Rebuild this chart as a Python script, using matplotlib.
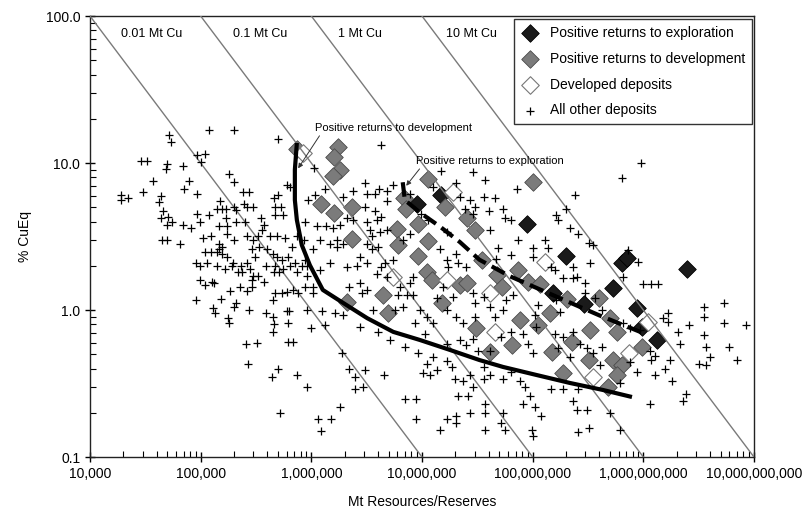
import matplotlib.pyplot as plt
import numpy as np
from matplotlib.ticker import FuncFormatter, NullFormatter, LogLocator

plt.rcParams['font.family'] = ['Liberation Sans', 'DejaVu Sans']

# contained metal reference lines
metal_mt = [0.01, 0.1, 1, 10]
metal_labels = ['0.01 Mt Cu', '0.1 Mt Cu', '1 Mt Cu', '10 Mt Cu']
metal_label_t = [1.9e4, 1.95e5, 1.75e6, 1.65e7]

# positive returns to exploration (tonnes, % CuEq)
explore_t = [9.0e6, 1.48e7, 8.9e7, 2.0e8, 1.52e8, 2.9e8, 5.3e8, 6.4e8, 7.1e8, 8.7e8, 9.7e8, 1.32e9, 2.47e9]
explore_g = [5.3, 6.1, 3.85, 2.33, 1.31, 1.10, 1.41, 2.09, 2.26, 1.03, 0.77, 0.625, 1.90]

# positive returns to development
develop_t = [7.4e5, 1.74e6, 1.6e6, 1.81e6, 1.57e6, 1.22e6, 1.6e6, 2.33e6, 2.33e6, 6.9e6,
             7.2e6, 5.9e6, 6.1e6, 9.2e6, 1.13e7, 1.61e7, 1.13e7, 9.2e6, 1.11e7, 1.23e7,
             2.55e7, 3.0e7, 2.2e7, 2.55e7, 4.4e6, 2.1e6, 4.9e6, 1.51e7, 3.1e7, 1.0e8,
             3.5e7, 4.75e7, 5.3e7, 7.3e7, 9.1e7, 1.16e8, 2.04e8, 4.0e8, 1.43e8, 3.3e8,
             5.8e8, 5.0e8, 9.7e8, 7.7e7, 1.11e8, 2.26e8, 6.5e7, 1.49e8, 3.2e8, 5.3e8,
             4.1e7, 1.87e8, 6.4e8, 5.8e8, 4.8e8]
develop_g = [12.4, 12.9, 11.0, 9.0, 8.2, 5.3, 4.6, 5.0, 3.04, 5.8,
             4.9, 3.56, 2.77, 3.85, 7.8, 5.0, 2.94, 2.33, 1.81, 1.60,
             4.2, 3.5, 1.48, 1.53, 1.26, 1.13, 0.95, 1.12, 0.76, 7.4,
             2.19, 1.73, 1.43, 1.87, 1.55, 1.50, 1.19, 1.21, 0.95, 0.73,
             0.71, 0.88, 0.56, 0.86, 0.79, 0.61, 0.58, 0.52, 0.46, 0.46,
             0.52, 0.37, 0.42, 0.36, 0.30]

# developed deposits
developed_t = [1.9e7, 1.29e8, 4.1e7, 4.6e7, 7.5e8, 3.5e8, 1.1e9, 5.5e6, 1.68e7, 8.4e5]
developed_g = [6.4, 2.12, 1.31, 0.71, 0.51, 0.35, 0.83, 1.68, 1.60, 11.7]

# all other deposits (tonnes, % CuEq)
other = [
    (5.2e4, 15.6), (5.4e4, 13.9), (1.19e5, 16.7), (2.0e5, 16.7), (5.0e5, 14.6),
    (2.9e4, 10.3), (3.3e4, 10.3), (5.0e4, 9.9), (4.9e4, 9.1), (6.9e4, 9.6), (9.2e4, 11.3),
    (1.1e5, 11.5), (1.0e5, 10.1), (3.7e4, 7.5), (3.0e4, 6.4), (1.9e4, 6.1), (1.9e4, 5.6),
    (2.2e4, 5.8), (7.8e4, 7.5), (7.1e4, 6.7), (1.82e5, 8.4), (2.0e5, 7.4), (2.43e5, 6.4),
    (2.75e5, 6.4), (9.3e4, 6.2), (4.2e4, 5.4), (4.4e4, 6.0), (4.6e4, 4.7), (4.4e4, 4.2),
    (5.1e4, 4.3), (5.0e4, 3.8), (5.5e4, 4.0), (6.9e4, 3.8), (8.1e4, 3.6), (9.3e4, 4.5),
    (9.9e4, 4.0), (1.18e5, 4.4), (1.5e5, 5.5), (1.4e5, 4.9), (1.55e5, 4.9), (1.7e5, 4.9),
    (2.0e5, 5.0), (2.1e5, 4.8), (2.48e5, 5.3), (2.6e5, 5.0), (3.0e5, 5.0), (1.68e5, 4.2),
    (1.47e5, 3.7), (1.73e5, 3.7), (2.1e5, 4.0), (2.5e5, 4.0), (3.5e5, 4.2), (3.7e5, 3.8),
    (4.6e5, 5.8), (5.0e5, 6.1), (4.7e5, 5.0), (5.3e5, 5.0), (5.5e5, 4.4), (4.7e5, 4.4),
    (6.0e5, 7.1), (6.4e5, 6.9), (8.8e5, 4.0), (1.06e5, 3.1), (1.23e5, 3.2), (4.5e4, 3.0),
    (5.0e4, 3.0), (6.5e4, 2.8), (1.45e5, 2.8), (1.55e5, 2.7), (1.72e5, 3.3), (2.0e5, 3.0),
    (2.6e5, 3.2), (2.95e5, 3.0), (3.3e5, 3.2), (3.6e5, 3.5), (4.2e5, 3.2), (4.9e5, 3.2),
    (5.8e5, 3.1), (6.7e5, 2.7), (7.4e5, 3.2), (8.5e5, 3.0), (1.09e5, 2.5), (1.23e5, 2.5),
    (1.4e5, 2.5), (1.55e5, 2.4), (1.45e5, 2.6), (1.72e5, 2.3), (1.97e5, 2.1), (2.3e5, 2.0),
    (2.6e5, 2.1), (3.1e5, 2.3), (2.9e5, 2.6), (3.4e5, 2.7), (4.0e5, 2.6), (4.5e5, 2.4),
    (4.9e5, 2.3), (5.4e5, 2.2), (6.1e5, 2.3), (7.1e5, 2.1), (8.2e5, 2.0), (8.8e5, 2.2),
    (9.1e4, 2.1), (9.9e4, 2.0), (1.13e5, 2.1), (1.4e5, 2.0), (1.66e5, 1.9), (1.9e5, 2.0),
    (2.16e5, 1.8), (2.36e5, 1.8), (2.8e5, 1.9), (2.97e5, 1.7), (3.3e5, 1.7), (3.9e5, 2.0),
    (4.7e5, 2.0), (4.6e5, 1.8), (5.1e5, 1.8), (5.6e5, 1.9), (6.4e5, 2.0), (7.4e5, 1.8),
    (9.1e5, 2.0), (9.9e4, 1.6), (1.09e5, 1.48), (1.26e5, 1.56), (1.33e5, 1.53), (1.84e5, 1.35),
    (2.26e5, 1.44), (2.6e5, 1.35), (2.9e5, 1.6), (2.9e5, 1.44), (3.7e5, 1.54), (4.7e5, 1.30),
    (4.5e5, 1.17), (5.4e5, 1.30), (6.0e5, 1.33), (6.9e5, 1.37), (7.6e5, 1.30), (8.8e5, 1.44),
    (9.1e5, 1.7), (9.1e4, 1.17), (1.52e5, 1.19), (2.0e5, 1.05), (2.1e5, 1.11), (1.3e5, 1.03),
    (1.35e5, 0.95), (2.75e5, 1.0), (3.9e5, 0.95), (4.5e5, 0.90), (4.6e5, 0.80), (4.5e5, 0.71),
    (6.0e5, 0.98), (6.3e5, 0.99), (6.1e5, 0.82), (9.1e5, 1.0), (1.78e5, 0.88), (1.8e5, 0.82),
    (2.55e5, 0.59), (3.2e5, 0.60), (6.1e5, 0.61), (6.9e5, 0.61), (2.66e5, 0.43), (4.4e5, 0.35),
    (5.0e5, 0.40), (7.5e5, 0.36), (9.2e5, 0.30), (5.2e5, 0.20),
    (4.3e6, 13.2), (1.06e6, 9.3), (3.05e6, 7.3), (4.1e6, 6.7), (3.8e6, 6.2), (3.2e6, 6.2),
    (4.8e6, 5.5), (2.4e6, 6.5), (1.95e6, 5.9), (1.33e6, 6.7), (1.08e6, 6.1), (9.4e5, 5.6),
    (3.05e6, 5.0), (3.8e6, 4.7), (2.1e6, 4.2), (2.4e6, 4.1), (3.2e6, 4.0), (3.9e6, 4.1),
    (4.3e6, 4.3), (1.8e6, 3.8), (1.58e6, 3.6), (1.12e6, 3.7), (1.37e6, 3.7), (3.4e6, 3.5),
    (3.5e6, 3.2), (4.2e6, 3.4), (4.8e6, 3.5), (1.7e6, 3.0), (1.47e6, 2.8), (1.7e6, 2.7),
    (1.95e6, 2.8), (1.2e6, 3.0), (1.04e6, 2.6), (3.2e6, 2.8), (3.5e6, 2.6), (4.0e6, 2.7),
    (2.75e6, 2.3), (2.1e6, 1.97), (2.6e6, 2.0), (3.2e6, 2.1), (1.47e6, 2.1), (1.2e6, 1.87),
    (1.04e6, 1.44), (4.3e6, 1.97), (4.8e6, 1.69), (3.9e6, 1.77), (6.3e6, 1.44), (7.3e6, 1.26),
    (8.3e6, 1.26), (6.1e6, 1.26), (2.75e6, 1.52), (3.2e6, 1.37), (2.2e6, 1.44), (1.67e7, 3.4),
    (1.45e7, 2.6), (2.05e7, 2.4), (1.73e7, 1.97), (2.2e7, 5.9), (2.45e7, 4.9), (2.7e7, 5.6),
    (2.9e7, 4.5), (2.9e7, 8.7), (2.05e7, 7.3), (1.26e7, 6.9), (7.8e6, 6.2), (5.5e6, 7.1),
    (4.8e6, 6.5), (9.9e6, 4.5), (1.14e7, 4.1), (7.8e6, 3.3), (6.8e6, 3.0), (1.67e7, 2.2),
    (2.1e7, 2.1), (2.5e7, 1.97), (1.56e7, 1.44), (1.92e7, 1.23), (1.36e7, 1.2), (4.6e6, 2.1),
    (5.5e6, 2.2), (8.3e6, 1.69), (7.8e6, 1.52), (1.5e7, 8.8),
    (1.04e6, 1.30), (1.24e6, 0.98), (1.63e6, 0.95), (1.95e6, 0.92), (2.85e6, 1.3), (3.6e6, 1.0),
    (6.8e6, 1.05), (5.7e6, 1.0), (9.6e6, 1.0), (1.1e7, 0.90), (1.26e7, 0.81), (8.6e6, 0.81),
    (1.67e7, 1.0), (2.05e7, 0.9), (2.36e7, 0.81), (3.0e7, 0.90), (3.0e7, 1.11), (1.0e6, 0.75),
    (1.33e6, 0.79), (2.75e6, 0.77), (4.0e6, 0.71), (5.1e6, 0.625), (7.0e6, 0.56), (1.06e7, 0.69),
    (1.67e7, 0.59), (2.2e7, 0.625), (2.5e7, 0.58), (1.88e6, 0.51), (2.2e6, 0.40), (2.5e6, 0.35),
    (3.05e6, 0.39), (2.95e6, 0.30), (2.5e6, 0.29), (4.5e6, 0.36), (9.2e6, 0.51), (1.1e7, 0.43),
    (1.26e7, 0.48), (1.36e7, 0.39), (1.03e7, 0.37), (1.18e7, 0.36), (1.67e7, 0.45), (1.85e7, 0.41),
    (2.0e7, 0.34), (2.36e7, 0.33), (2.7e7, 0.36), (2.9e7, 0.30), (2.1e7, 0.26), (2.6e7, 0.26),
    (7.0e6, 0.25), (8.9e6, 0.25), (1.8e6, 0.22), (1.16e6, 0.18), (1.5e6, 0.18), (1.22e6, 0.15),
    (8.9e6, 0.18), (1.45e7, 0.153), (1.67e7, 0.18), (2.05e7, 0.19), (2.05e7, 0.17), (2.7e7, 0.20),
    (3.7e7, 7.7), (7.2e7, 6.7), (3.6e7, 5.9), (4.6e7, 5.8), (3.0e7, 5.0), (4.0e7, 4.7),
    (5.4e7, 4.9), (5.6e7, 4.2), (4.1e7, 3.5), (6.4e7, 4.1), (7.4e7, 3.0), (6.4e7, 2.37),
    (1.01e8, 2.63), (1.29e8, 3.0), (1.38e8, 2.63), (1.01e8, 2.3), (4.9e7, 2.63), (4.7e7, 2.24),
    (1.64e8, 4.4), (1.70e8, 4.1), (2.17e8, 3.6), (2.58e8, 3.3), (2.4e8, 6.1), (2.0e8, 4.9),
    (3.2e8, 2.84), (3.5e8, 2.77), (3.3e8, 2.08), (2.3e8, 1.97), (1.89e8, 1.64), (2.33e8, 1.64),
    (2.96e8, 1.52), (2.5e8, 1.69), (6.4e8, 7.9), (9.6e8, 10.0), (7.3e8, 2.56), (9.0e8, 2.13),
    (6.6e8, 1.69), (1.48e8, 1.97), (1.59e8, 1.87),
    (1.0e9, 1.5), (1.18e9, 1.5), (1.36e9, 1.5), (1.67e9, 0.95), (1.51e9, 0.88), (1.67e9, 0.83),
    (2.06e9, 0.71), (2.13e9, 0.59), (2.6e9, 0.79), (3.5e9, 1.05), (3.5e9, 0.90), (3.5e9, 0.68),
    (3.7e9, 0.56), (4.0e9, 0.48), (3.2e9, 0.43), (3.7e9, 0.42), (5.4e9, 1.11), (5.4e9, 0.81),
    (6.0e9, 0.56), (7.0e9, 0.46), (8.5e9, 0.79), (1.14e9, 0.53), (1.27e9, 0.49), (1.18e9, 0.46),
    (1.27e9, 0.36), (1.56e9, 0.40), (1.73e9, 0.46), (1.8e9, 0.33), (1.14e9, 0.23), (2.3e9, 0.24),
    (2.45e9, 0.27),
    (2.9e7, 1.30), (3.6e7, 1.23), (5.4e7, 1.0), (5.8e7, 1.17), (6.7e7, 1.26), (2.9e7, 0.64),
    (3.2e7, 0.53), (5.2e7, 0.66), (6.4e7, 0.71), (8.2e7, 0.69), (9.1e7, 0.59), (1.01e8, 0.51),
    (1.89e8, 0.66), (2.33e8, 0.71), (2.67e8, 0.59), (3.07e8, 0.55), (3.5e8, 0.51), (4.2e8, 0.56),
    (1.05e8, 0.92), (1.12e8, 1.08), (1.64e8, 1.17), (1.76e8, 0.97), (2.96e8, 1.30), (3.66e8, 1.2),
    (4.2e8, 1.0), (6.6e8, 0.81), (7.6e8, 0.75), (9.3e8, 0.73), (3.6e7, 0.41), (4.1e7, 0.36),
    (5.4e7, 0.34), (6.4e7, 0.38), (7.7e7, 0.33), (3.6e7, 0.34), (8.5e7, 0.30), (9.4e7, 0.26),
    (8.2e7, 0.23), (1.05e8, 0.22), (1.2e8, 0.19), (9.8e7, 0.153), (1.01e8, 0.14), (3.7e7, 0.23),
    (3.7e7, 0.20), (5.4e7, 0.20), (5.2e7, 0.17), (3.7e7, 0.153), (5.6e7, 0.153), (1.48e8, 0.29),
    (1.89e8, 0.29), (2.33e8, 0.24), (2.58e8, 0.29), (2.5e8, 0.21), (3.07e8, 0.21), (3.2e8, 0.157),
    (2.58e8, 0.149), (5.0e8, 0.20), (6.1e8, 0.153), (4.1e7, 1.05), (4.6e7, 0.90), (1.08e8, 0.77),
    (1.59e8, 0.69), (1.7e8, 0.55), (2.17e8, 0.48), (4.1e8, 0.42), (6.1e8, 0.32), (8.7e8, 0.38),
    (7.6e8, 0.44), (4.1e7, 0.53),
]
other_t = [p[0] for p in other]
other_g = [p[1] for p in other]

# trend curves
dev_curve_t = [7.4e5, 7.1e5, 7.1e5, 7.4e5, 8.2e5, 9.7e5, 1.27e6, 1.93e6, 3.2e6, 5.5e6,
               9.6e6, 1.79e7, 3.3e7, 5.4e7, 1.09e8, 2.17e8, 4.3e8, 7.9e8]
dev_curve_g = [13.7, 9.0, 5.6, 4.1, 2.77, 2.02, 1.37, 1.12, 0.88, 0.71,
               0.625, 0.535, 0.457, 0.41, 0.361, 0.319, 0.286, 0.256]
exp_curve_t = [6.7e6, 7.0e6, 9.6e6, 1.45e7, 2.2e7, 3.3e7, 6.2e7, 1.43e8, 4.0e8, 1.03e9]
exp_curve_g = [7.4, 5.6, 4.6, 3.7, 2.9, 2.2, 1.70, 1.29, 0.92, 0.69]

fig = plt.figure(figsize=(8.05, 5.12), dpi=100)
ax = fig.add_axes([0.1118, 0.1074, 0.8248, 0.8613])
ax.set_xscale('log')
ax.set_yscale('log')

xs = np.logspace(4, 10, 300)
for mt, lab, lx in zip(metal_mt, metal_labels, metal_label_t):
    ax.plot(xs, mt * 1e6 * 100 / xs, color='#7a7a7a', lw=1.0, zorder=3)
    ax.text(lx, 76, lab, fontsize=9, va='center', ha='left', zorder=6)

ax.scatter(explore_t, explore_g, marker='D', s=80, c='#1a1a1a', edgecolors='#000000',
           linewidths=0.6, zorder=2, label='Positive returns to exploration')
ax.scatter(develop_t, develop_g, marker='D', s=80, c='#7b7b7b', edgecolors='#4a4a4a',
           linewidths=0.6, zorder=2, label='Positive returns to development')
ax.scatter(developed_t, developed_g, marker='D', s=80, c='white', edgecolors='#777777',
           linewidths=0.8, zorder=2, label='Developed deposits')
ax.scatter(other_t, other_g, marker='+', s=32, c='black', linewidths=0.9, zorder=3,
           label='All other deposits')

ax.plot(dev_curve_t, dev_curve_g, color='black', lw=3, zorder=5, solid_capstyle='butt')
ax.plot(exp_curve_t, exp_curve_g, color='black', lw=3, zorder=5, linestyle=(0, (3.5, 1.6)))

arrow = dict(arrowstyle='-|>', color='#333333', lw=0.7, mutation_scale=7,
             shrinkA=0, shrinkB=0, relpos=(0.04, 0.0))
ax.annotate('Positive returns to development', xy=(7.6e5, 9.2), xytext=(1.08e6, 17.3),
            fontsize=8, ha='left', va='center', arrowprops=arrow, zorder=6)
ax.annotate('Positive returns to exploration', xy=(7.2e6, 7.0), xytext=(8.8e6, 10.3),
            fontsize=8, ha='left', va='center', arrowprops=arrow, zorder=6)

ax.set_xlim(1e4, 1e10)
ax.set_ylim(0.1, 100)
ax.xaxis.set_major_locator(LogLocator(base=10, numticks=12))
ax.yaxis.set_major_locator(LogLocator(base=10, numticks=12))
ax.xaxis.set_minor_locator(LogLocator(base=10, subs=np.arange(2, 10), numticks=12))
ax.yaxis.set_minor_locator(LogLocator(base=10, subs=np.arange(2, 10), numticks=12))
ax.xaxis.set_major_formatter(FuncFormatter(lambda v, p: f'{v:,.0f}'))
ax.yaxis.set_major_formatter(FuncFormatter(lambda v, p: f'{v:.1f}'))
ax.xaxis.set_minor_formatter(NullFormatter())
ax.yaxis.set_minor_formatter(NullFormatter())
ax.tick_params(which='major', direction='inout', length=7, width=1, labelsize=10)
ax.tick_params(which='minor', direction='in', length=4, width=0.8)
for sp in ax.spines.values():
    sp.set_linewidth(1.0)
    sp.set_color('#222222')

ax.set_xlabel('Mt Resources/Reserves', fontsize=10, labelpad=10)
ax.set_ylabel('% CuEq', fontsize=10, labelpad=10)

leg = ax.legend(loc='upper right', bbox_to_anchor=(0.997, 0.993), borderaxespad=0,
                fancybox=False, framealpha=1, edgecolor='#333333', fontsize=10,
                handlelength=1.4, handletextpad=0.7, labelspacing=0.85, borderpad=0.5,
                scatterpoints=1)
leg.get_frame().set_linewidth(1.0)
leg.set_zorder(10)

fig.savefig('out.png', dpi=100)
